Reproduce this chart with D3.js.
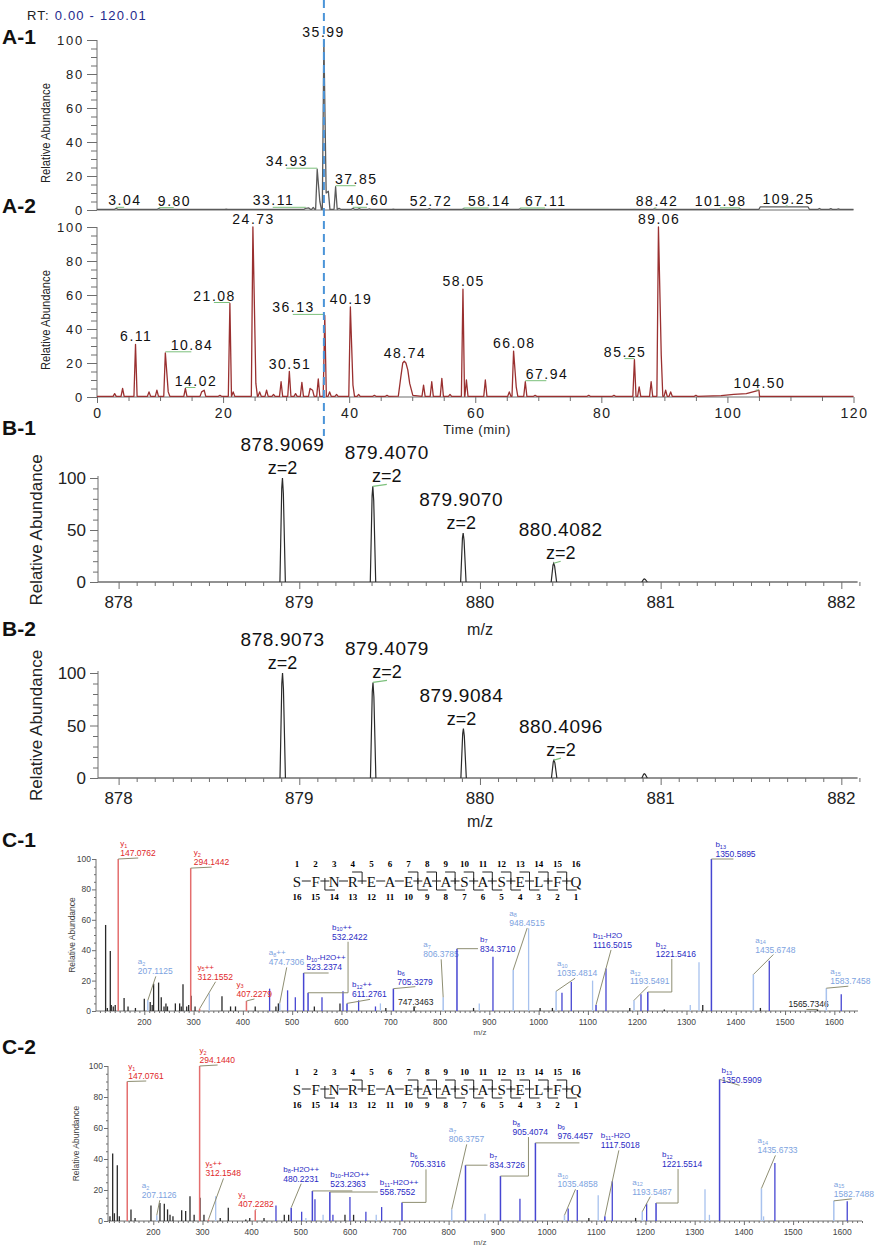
<!DOCTYPE html>
<html>
<head>
<meta charset="utf-8">
<script src="https://cdn.jsdelivr.net/npm/d3@7/dist/d3.min.js"></script>
<style>
  body { margin: 0; background: #fff; }
  svg { display: block; font-family: "Liberation Sans", Arial, sans-serif; }
</style>
</head>
<body>
<svg id="fig" width="879" height="1248"></svg>
<script>
// ---------- values ----------

// A-1 / A-2 chromatograms: [time (min), relative abundance]
var a1Peaks = [[3.04,1],[9.80,0.8],[20.5,0.5],[33.11,1],[33.6,1.2],[34.3,1.5],[34.93,24],[35.35,5],
  [35.99,100],[36.35,10],[36.7,11],[37.85,13.7],[38.4,1],[40.60,1],[41.6,0.8],[43.2,0.6],[47,0.5],
  [52.72,0.8],[58.14,0.6],[67.11,0.6],[88.42,0.6],[101.98,0.7],[114.6,0.9],[116.4,0.8],[117.6,0.6]];
var a1Humps = [[[105.0,0.4],[105.2,1.8],[109.25,1.8],[112.8,1.8],[113.0,0.4]]];
var a1Labels = [3.04,9.80,33.11,34.93,35.99,37.85,40.60,52.72,58.14,67.11,88.42,101.98,109.25];

var a2Peaks = [[2.8,2],[4.06,5],[6.11,31],[8.25,3],[9.5,4],[10.84,26],[11.3,3],[14.02,5],[16.6,3],
  [17.0,4],[19.5,1],[21.08,55],[21.6,3],[24.73,100],[25.2,8],[25.8,3],[26.9,4],[28.0,1.5],[29.2,9],
  [30.51,15],[31.5,2],[32.5,8.6],[33.8,5],[34.2,4],[35.1,10.6],[36.13,48],[36.9,3],[38.0,1.5],
  [40.19,53],[40.6,7],[41.5,1.5],[44.0,1],[46.0,1],[51.8,7],[53.1,9],[54.7,11],[56.0,1.5],
  [58.05,63.5],[58.6,10],[61.6,10],[65.4,3],[66.08,27],[66.5,6],[67.94,9],[69.5,1],[78.0,1],
  [82.0,1],[85.25,22],[86.0,6],[87.9,9],[89.06,100],[89.5,25],[90.2,4],[91.0,3],[95.0,1]];
var a2Humps = [[[47.8,0.5],[48.2,12],[48.5,20],[48.74,21],[49.0,20],[49.3,16],[49.6,8],[50.1,1]],
  [[99.0,0.8],[101.0,1.5],[103.0,2],[104.50,3.5],[105.0,4],[105.1,0.4]]];
var a2Labels = [6.11,10.84,14.02,21.08,24.73,30.51,36.13,40.19,48.74,58.05,66.08,67.94,85.25,89.06,104.50];

var timeTicks = [0,20,40,60,80,100,120];
var abundTicks = [0,20,40,60,80,100];

// B-1 / B-2 isotope envelopes: [m/z, relative abundance]
var b1Peaks = [[878.9069,100],[879.4070,92],[879.9070,47],[880.4082,18],[880.91,3]];
var b1Labels = [878.9069,879.4070,879.9070,880.4082];
var b2Peaks = [[878.9073,100],[879.4079,91],[879.9084,47],[880.4096,17],[880.91,4]];
var b2Labels = [878.9073,879.4079,879.9084,880.4096];
var chargeText = "z=2";
var mzTicks = [878,879,880,881,882];
var bAbundTicks = [0,50,100];

// C-1 / C-2 MS/MS spectra: unannotated / colour-only peaks [m/z, abundance, series]
var c1Peaks = [[121.5,56.6,"n"],[125,2,"n"],[131,39.4,"n"],[133,4,"n"],[137,3,"n"],[141,4,"n"],
  [159,8.6,"n"],[167,3,"n"],[182,2,"n"],[200,8,"n"],[212,6,"n"],[216,4,"n"],[218.9,18,"n"],
  [229,18.7,"n"],[234.4,9,"n"],[240,3,"n"],[243.9,5,"n"],[247,3,"n"],[263,5,"n"],[271.7,5,"n"],
  [275,3,"n"],[278.5,17.6,"n"],[286,3,"n"],[290,4,"n"],[295,10,"n"],[303,3,"n"],[331.9,11.5,"a"],
  [357.6,9.7,"n"],[375,3,"n"],[385,3,"n"],[425,3,"n"],[454.2,14.7,"b"],[467,3,"n"],[472,5,"n"],
  [490.7,13.6,"b"],[506.4,9,"b"],[545,3,"n"],[560.5,9,"b"],[597,5,"n"],[603.1,13,"b"],
  [634.8,7,"b"],[669,3,"b"],[679,5,"a"],[690,2,"n"],[868,2,"n"],[879.6,5,"a"],[907.4,35.7,"b"],
  [979.7,54.4,"a"],[1003,2,"n"],[1028,2,"n"],[1047.4,12,"b"],[1066.3,19,"b"],[1109.5,20,"a"],
  [1136.7,28,"b"],[1185,2,"n"],[1207.7,11,"b"],[1255,1,"n"],[1307.7,4,"a"],[1325.4,32,"a"],
  [1333,4,"n"],[1450,2,"n"],[1468,33,"b"],[1614,11,"b"]];
// annotated ions [m/z, abundance, ion]
var c1Ions = [[147.0762,100,"y1"],[294.1442,94,"y2"],[207.1125,7,"a2"],[312.1552,1.5,"y5++"],
  [407.2279,6.6,"y3"],[474.7306,5,"a8++"],[523.2374,25,"b10-H2O++"],[532.2422,12,"b10++"],
  [611.2761,5,"b12++"],[705.3279,14.7,"b6"],[747.3463,3,""],[806.3785,9,"a7"],[834.3710,41,"b7"],
  [948.4515,27,"a8"],[1035.4814,13,"a10"],[1116.5015,4,"b11-H2O"],[1193.5491,7,"a12"],
  [1221.5416,12.5,"b12"],[1350.5895,100,"b13"],[1435.6748,24,"a14"],[1565.7346,1,""],
  [1583.7458,15,"a15"]];

var c2Peaks = [[112,3,"n"],[117.5,43.5,"n"],[121,5,"n"],[126.9,36,"n"],[131,3,"n"],[154.7,7.5,"n"],
  [163,2,"n"],[195.3,10,"n"],[213.6,11.6,"n"],[222.4,11.2,"n"],[229,7.5,"n"],[234,4,"n"],
  [240,3,"n"],[257.7,7,"n"],[265.8,6.5,"n"],[274.6,16,"n"],[283,4,"n"],[295,15,"n"],[303,4,"n"],
  [326.8,16,"a"],[336,2,"n"],[352.4,8.6,"n"],[388,1,"n"],[396,2,"n"],[425,2,"n"],[449.3,10,"b"],
  [466.2,4,"n"],[475,4,"n"],[501.5,6,"b"],[510,2,"a"],[528.5,14,"b"],[545,4,"a"],[565,4,"b"],
  [589.5,4,"n"],[599.6,15.5,"b"],[607,4,"n"],[632,6,"b"],[653,4,"a"],[664,9,"b"],[874,4.7,"a"],
  [945,14.4,"b"],[1043,8,"b"],[1061.5,20,"b"],[1085,2,"n"],[1104,16.6,"a"],[1132.6,25.6,"b"],
  [1180,2,"n"],[1202.4,11.2,"b"],[1321,20.5,"a"],[1330,4,"a"],[1440,3,"a"],[1463,37.5,"b"],
  [1610,12.7,"b"]];
var c2Ions = [[147.0761,90,"y1"],[294.1440,100,"y2"],[207.1126,3.7,"a2"],[312.1548,1,"y5++"],
  [407.2282,7,"y3"],[480.2231,8.6,"b8-H2O++"],[523.2363,19.4,"b10-H2O++"],[558.7552,18.7,"b11-H2O++"],
  [705.3316,12,"b6"],[806.3757,7.5,"a7"],[834.3726,36,"b7"],[905.4074,29,"b8"],[976.4457,50.4,"b9"],
  [1035.4858,3.7,"a10"],[1117.5018,3,"b11-H2O"],[1193.5487,6,"a12"],[1221.5514,11.6,"b12"],
  [1350.5909,91.4,"b13"],[1435.6733,21,"a14"],[1582.7488,13,"a15"]];

var msTicks = [200,300,400,500,600,700,800,900,1000,1100,1200,1300,1400,1500,1600];
var sequence = ["S","F","N","R","E","A","E","A","A","S","A","S","E","L","F","Q"];
// fragment marks between residues: b = N-terminal bracket, y = C-terminal bracket
var bonds = ["-","y","-","b","-","-","by","by","by","by","by","by","by","by","by"];

// ---------- drawing ----------
var svg = d3.select("#fig");
var axisGrey = "#6e6e6e";

function ticks(parent, orient, scale, vals, size, tx, ty) {
  var ax = (orient === "left" ? d3.axisLeft : d3.axisBottom)(scale)
    .tickValues(vals).tickSize(size).tickSizeOuter(0).tickFormat("");
  var g = parent.append("g").attr("transform", "translate(" + tx + "," + ty + ")").call(ax);
  g.select(".domain").remove();
  g.selectAll(".tick line").attr("stroke", axisGrey).attr("stroke-width", 1);
  return g;
}

function panelTag(txt, y) {
  svg.append("text").attr("x", 2).attr("y", y).attr("font-size", 21)
    .attr("font-weight", "bold").attr("fill", "#111").text(txt);
}

// header
var rt = svg.append("text").attr("x", 27).attr("y", 20).attr("font-size", 13).attr("letter-spacing", 1.2);
rt.append("tspan").attr("fill", "#222").text("RT: ");
rt.append("tspan").attr("fill", "#1f2a8c").text("0.00 - 120.01");

// ----- A panels -----
var xt = d3.scaleLinear().domain([0, 120]).range([97, 853.5]);

function buildTrace(peaks, humps, base, w) {
  var spans = peaks.map(function(p) { return [p[0] - w, p[0] + w]; });
  humps.forEach(function(h) { spans.push([h[0][0], h[h.length - 1][0]]); });
  function inside(t, own) {
    return spans.some(function(s, i) { return i !== own && t > s[0] && t < s[1]; });
  }
  var pts = [[0, base]];
  peaks.forEach(function(p, i) {
    if (!inside(p[0] - w, i)) pts.push([p[0] - w, base]);
    pts.push([p[0], p[1]]);
    if (!inside(p[0] + w, i)) pts.push([p[0] + w, base]);
  });
  humps.forEach(function(h) { h.forEach(function(q) { pts.push(q); }); });
  pts.push([120, base]);
  return pts.sort(function(a, b) { return a[0] - b[0]; });
}

function heightAt(peaks, humps, t) {
  var all = peaks.concat([].concat.apply([], humps));
  var best = all.reduce(function(a, b) { return Math.abs(b[0] - t) < Math.abs(a[0] - t) ? b : a; });
  return best[1];
}

function chromPanel(peaks, humps, labels, dxMap, y, color, tag, tagY, showTime) {
  var g = svg.append("g");
  panelTag(tag, tagY);
  // axes
  g.append("line").attr("x1", xt(0)).attr("x2", xt(0)).attr("y1", y(100)).attr("y2", y(0))
    .attr("stroke", axisGrey);
  g.append("line").attr("x1", xt(0)).attr("x2", xt(120)).attr("y1", y(0)).attr("y2", y(0))
    .attr("stroke", axisGrey).attr("stroke-width", 1.2);
  ticks(g, "left", y, abundTicks, 10, xt(0), 0);
  ticks(g, "left", y, d3.range(0, 101, 5).filter(function(v) { return v % 20; }), 6, xt(0), 0);
  g.selectAll("text.yl").data(abundTicks).join("text").attr("class", "yl")
    .attr("x", 84).attr("y", function(d) { return y(d) + 5; })
    .attr("text-anchor", "end").attr("font-size", 13).attr("letter-spacing", 1.8)
    .attr("fill", "#222").text(function(d) { return d; });
  g.append("text")
    .attr("transform", "translate(50," + ((y(0) + y(100)) / 2 + 8) + ") rotate(-90)")
    .attr("text-anchor", "middle").attr("font-size", 13).attr("textLength", 100)
    .attr("lengthAdjust", "spacingAndGlyphs").attr("fill", "#222").text("Relative Abundance");
  if (showTime) {
    ticks(g, "bottom", xt, timeTicks, 6, 0, y(0));
    ticks(g, "bottom", xt, d3.range(0, 121, 5).filter(function(v) { return v % 20; }), 4, 0, y(0));
    g.selectAll("text.xl").data(timeTicks).join("text").attr("class", "xl")
      .attr("x", function(d) { return xt(d) + 1; }).attr("y", y(0) + 21)
      .attr("text-anchor", "middle").attr("font-size", 14).attr("letter-spacing", 1.5)
      .attr("fill", "#222").text(function(d) { return d; });
  }
  // trace
  var line = d3.line().x(function(d) { return xt(d[0]); }).y(function(d) { return y(d[1]); });
  g.append("path").datum(buildTrace(peaks, humps, 0.4, 0.25))
    .attr("d", line).attr("fill", "none").attr("stroke", color).attr("stroke-width", 1.3)
    .attr("stroke-linejoin", "round");
  // peak labels
  labels.forEach(function(t) {
    var px = xt(t), py = y(heightAt(peaks, humps, t));
    var lx = px + (dxMap[t.toFixed(2)] || 0);
    if (Math.abs(lx - px) > 1) {
      g.append("line").attr("x1", px).attr("x2", lx).attr("y1", py - 1).attr("y2", py - 1)
        .attr("stroke", "#7cc07c").attr("stroke-width", 1);
    }
    g.append("text").attr("x", lx + 0.7).attr("y", py - 3).attr("text-anchor", "middle")
      .attr("font-size", 14).attr("letter-spacing", 1.5).attr("fill", "#111").text(t.toFixed(2));
  });
}

var ya1 = d3.scaleLinear().domain([0, 100]).range([210, 40]);
var ya2 = d3.scaleLinear().domain([0, 100]).range([397, 227]);
chromPanel(a1Peaks, a1Humps, a1Labels,
  {"3.04": 8, "9.80": 15, "33.11": -33, "34.93": -31, "35.99": -1, "37.85": 20, "40.60": 14,
   "52.72": 1, "58.14": 25, "67.11": 25, "88.42": 2, "101.98": -20, "109.25": 2},
  ya1, "#5a5a5a", "A-1", 44, false);
chromPanel(a2Peaks, a2Humps, a2Labels,
  {"10.84": 26, "14.02": 10, "21.08": -16, "36.13": -32, "67.94": 21, "85.25": -10, "104.50": 3},
  ya2, "#9a3030", "A-2", 213, true);
svg.append("text").attr("x", 477).attr("y", 434).attr("text-anchor", "middle")
  .attr("font-size", 13).attr("letter-spacing", 0.6).attr("fill", "#222").text("Time (min)");

// dashed marker through the two chromatograms
svg.append("line").attr("x1", xt(35.99)).attr("x2", xt(35.99)).attr("y1", 0).attr("y2", 436)
  .attr("stroke", "#4b94d8").attr("stroke-width", 2).attr("stroke-dasharray", "8,5");

// ----- B panels -----
var xb = d3.scaleLinear().domain([877.886, 882.09]).range([98, 857.6]);

function isoPanel(peaks, labels, dxs, y, tag, tagY, mzY) {
  var g = svg.append("g");
  panelTag(tag, tagY);
  g.append("line").attr("x1", xb.range()[0]).attr("x2", xb.range()[0]).attr("y1", y(100) - 2)
    .attr("y2", y(0)).attr("stroke", axisGrey);
  g.append("line").attr("x1", xb.range()[0]).attr("x2", xb.range()[1]).attr("y1", y(0)).attr("y2", y(0))
    .attr("stroke", axisGrey).attr("stroke-width", 1.3);
  ticks(g, "left", y, bAbundTicks, 8, xb.range()[0], 0);
  ticks(g, "left", y, d3.range(10, 100, 10).filter(function(v) { return v % 50; }), 5, xb.range()[0], 0);
  ticks(g, "bottom", xb, mzTicks, 7, 0, y(0));
  ticks(g, "bottom", xb, d3.range(878, 882.11, 0.1).filter(function(v) {
    return Math.abs(v - Math.round(v)) > 0.01; }), 4, 0, y(0));
  g.selectAll("text.yl").data(bAbundTicks).join("text").attr("class", "yl")
    .attr("x", 86).attr("y", function(d) { return y(d) + 6; })
    .attr("text-anchor", "end").attr("font-size", 17).attr("fill", "#222")
    .text(function(d) { return d; });
  g.selectAll("text.xl").data(mzTicks).join("text").attr("class", "xl")
    .attr("x", function(d) { return xb(d); }).attr("y", y(0) + 26)
    .attr("text-anchor", "middle").attr("font-size", 17).attr("fill", "#222")
    .text(function(d) { return d; });
  g.append("text").attr("transform", "translate(42," + (y(50) + 0) + ") rotate(-90)")
    .attr("text-anchor", "middle").attr("font-size", 17).attr("fill", "#222")
    .text("Relative Abundance");
  g.append("text").attr("x", 480).attr("y", mzY).attr("text-anchor", "middle")
    .attr("font-size", 16).attr("fill", "#222").text("m/z");
  var line = d3.line().x(function(d) { return xb(d[0]); }).y(function(d) { return y(d[1]); });
  peaks.forEach(function(p) {
    g.append("path").datum([[p[0] - 0.014, 0], [p[0] - 0.004, p[1] * 0.9], [p[0], p[1]],
      [p[0] + 0.005, p[1] * 0.85], [p[0] + 0.016, 0]])
      .attr("d", line).attr("fill", "none").attr("stroke", "#2a2a2a").attr("stroke-width", 1.2);
  });
  labels.forEach(function(m, i) {
    var p = peaks.filter(function(q) { return q[0] === m; })[0];
    var px = xb(m), py = y(p[1]), lx = px + dxs[i];
    if (Math.abs(dxs[i]) > 3) {
      g.append("line").attr("x1", px).attr("x2", lx).attr("y1", py).attr("y2", py - 2)
        .attr("stroke", "#7cc07c").attr("stroke-width", 1.2);
    }
    g.append("text").attr("x", lx).attr("y", py - 4).attr("text-anchor", "middle")
      .attr("font-size", 18).attr("fill", "#111").text(chargeText);
    g.append("text").attr("x", lx).attr("y", py - 27).attr("text-anchor", "middle")
      .attr("font-size", 19).attr("letter-spacing", 0.6).attr("fill", "#111").text(m.toFixed(4));
  });
}

isoPanel(b1Peaks, b1Labels, [0, 14, -2, 7],
  d3.scaleLinear().domain([0, 100]).range([582, 478]), "B-1", 435, 635);
isoPanel(b2Peaks, b2Labels, [0, 14, -2, 7],
  d3.scaleLinear().domain([0, 100]).range([778, 673]), "B-2", 636, 827);

// ----- C panels -----
var seriesLine = {a: "#a8c2ee", b: "#4646d2", y: "#e46e6e", n: "#2a2a2a"};
var seriesText = {a: "#7ca2e0", b: "#2a2ac4", y: "#e0282a", n: "#222"};

function drawSeq(cy) {
  var g = svg.append("g").attr("font-family", "'Liberation Serif','Times New Roman',serif");
  var sx = d3.scaleLinear().domain([0, 15]).range([297, 576]);
  g.selectAll("text.res").data(sequence).join("text").attr("class", "res")
    .attr("x", function(d, i) { return sx(i); }).attr("y", cy + 5.5)
    .attr("text-anchor", "middle").attr("font-size", 15).attr("fill", "#111")
    .text(function(d) { return d; });
  g.selectAll("text.top").data(sequence).join("text").attr("class", "top")
    .attr("x", function(d, i) { return sx(i); }).attr("y", cy - 14.5)
    .attr("text-anchor", "middle").attr("font-size", 9).attr("font-weight", "bold")
    .text(function(d, i) { return i + 1; });
  g.selectAll("text.bot").data(sequence).join("text").attr("class", "bot")
    .attr("x", function(d, i) { return sx(i); }).attr("y", cy + 18.5)
    .attr("text-anchor", "middle").attr("font-size", 9).attr("font-weight", "bold")
    .text(function(d, i) { return sequence.length - i; });
  bonds.forEach(function(b, i) {
    var xm = (sx(i) + sx(i + 1)) / 2;
    var s = "M" + (xm - 4.5) + "," + cy + "H" + (xm + 4.5);
    if (b.indexOf("b") >= 0) s += "M" + xm + "," + (cy + 3) + "V" + (cy - 9) + "H" + (xm - 10);
    if (b.indexOf("y") >= 0) s += "M" + xm + "," + (cy - 3) + "V" + (cy + 9) + "H" + (xm + 10);
    g.append("path").attr("d", s).attr("fill", "none").attr("stroke", "#222").attr("stroke-width", 1);
  });
}

function msPanel(peaks, ions, place, x, y, axisX, tag, tagY, seqY, mzY) {
  var g = svg.append("g");
  panelTag(tag, tagY);
  var x0 = x.range()[0], x1 = x.range()[1];
  g.append("line").attr("x1", x0).attr("x2", x0).attr("y1", y(100)).attr("y2", y(0)).attr("stroke", axisGrey);
  g.append("line").attr("x1", x0).attr("x2", x1).attr("y1", y(0)).attr("y2", y(0)).attr("stroke", axisGrey);
  ticks(g, "left", y, abundTicks, 4, x0, 0);
  ticks(g, "left", y, d3.range(0, 101, 5).filter(function(v) { return v % 20; }), 2, x0, 0);
  ticks(g, "bottom", x, msTicks, 4, 0, y(0));
  ticks(g, "bottom", x, d3.range(110, 1641, 10).filter(function(v) { return v % 100; }), 2, 0, y(0));
  g.selectAll("text.yl").data(abundTicks).join("text").attr("class", "yl")
    .attr("x", x0 - 5).attr("y", function(d) { return y(d) + 3; })
    .attr("text-anchor", "end").attr("font-size", 8.5).attr("fill", "#444")
    .text(function(d) { return d; });
  g.selectAll("text.xl").data(msTicks).join("text").attr("class", "xl")
    .attr("x", function(d) { return x(d); }).attr("y", y(0) + 14)
    .attr("text-anchor", "middle").attr("font-size", 8.5).attr("fill", "#444")
    .text(function(d) { return d; });
  g.append("text").attr("transform", "translate(" + axisX + "," + y(50) + ") rotate(-90)")
    .attr("text-anchor", "middle").attr("font-size", 8.5).attr("fill", "#444").text("Relative Abundance");
  g.append("text").attr("x", 480).attr("y", mzY).attr("text-anchor", "middle")
    .attr("font-size", 8).attr("fill", "#555").text("m/z");

  g.selectAll("line.pk").data(peaks).join("line").attr("class", "pk")
    .attr("x1", function(d) { return x(d[0]); }).attr("x2", function(d) { return x(d[0]); })
    .attr("y1", y(0)).attr("y2", function(d) { return y(d[1]); })
    .attr("stroke", function(d) { return seriesLine[d[2]]; }).attr("stroke-width", 1.3);

  ions.forEach(function(ion, i) {
    var m = /^([aby])(\d+)(.*)$/.exec(ion[2]);
    var s = m ? m[1] : "n";
    var px = x(ion[0]), py = y(ion[1]);
    var pl = place[i], lx = px + pl[0], base = py + pl[1];
    g.append("line").attr("x1", px).attr("x2", px).attr("y1", y(0)).attr("y2", py)
      .attr("stroke", seriesLine[s]).attr("stroke-width", 1.5);
    var pts;
    if (pl[2] === "e") pts = [[px, py], [lx + 16, py], [lx + 16, base + 2]];
    else if (pl[2] === "h") pts = [[px, py], [lx - 2, py]];
    else if (pl[2] === "u") pts = [[px, py], [lx + 22, py]];
    else pts = [[px, py], [lx + 18, base + 2]];
    g.append("path").attr("d", d3.line()(pts)).attr("fill", "none")
      .attr("stroke", "#8e8e72").attr("stroke-width", 1);
    if (m) {
      var nt = g.append("text").attr("x", lx).attr("y", base - 10).attr("font-size", 8)
        .attr("fill", seriesText[s]);
      nt.append("tspan").text(m[1]);
      nt.append("tspan").attr("font-size", 5.5).attr("dy", 1.5).text(m[2]);
      nt.append("tspan").attr("dy", -1.5).text(m[3]);
    }
    g.append("text").attr("x", lx).attr("y", base).attr("font-size", 8.5)
      .attr("fill", seriesText[s]).text(ion[0].toFixed(4));
  });
  drawSeq(seqY);
}

var c1Place = [[2,-3,"d"],[3,-3,"d"],[-10,-26,"d"],[-2,-29,"d"],[-10,-4,"d"],[-11,-38,"d"],
  [3,-3,"u"],[24,-53,"e"],[5,-6,"d"],[4,-4,"d"],[-16,-1,"d"],[-20,-40,"d"],[23,3,"h"],[-4,-44,"d"],
  [1,-15,"d"],[-3,-57,"d"],[-4,-16,"d"],[8,-35,"e"],[4,-2,"d"],[2,-22,"d"],[-29,-2,"d"],[4,-4,"d"]];
var c2Place = [[1,-2.5,"d"],[0,-3,"d"],[-15,-17,"d"],[-3,-43,"d"],[-17,-3,"d"],[-8,-26,"d"],
  [18,-4,"u"],[50,3,"h"],[8,-35,"e"],[-3,-67,"d"],[24,3,"h"],[12,-41,"e"],[22,-4,"u"],[-7,-28,"d"],
  [-4,-68,"d"],[-10,-17,"d"],[6,-36,"e"],[2,4,"d"],[-4,-35,"d"],[0,-4,"d"]];

msPanel(c1Peaks, c1Ions, c1Place,
  d3.scaleLinear().domain([102, 1648]).range([96, 858]),
  d3.scaleLinear().domain([0, 100]).range([1011, 859]), 75, "C-1", 847, 881, 1035);
msPanel(c2Peaks, c2Ions, c2Place,
  d3.scaleLinear().domain([108, 1640]).range([108, 862]),
  d3.scaleLinear().domain([0, 100]).range([1221, 1066]), 79, "C-2", 1054, 1089, 1245);
</script>
</body>
</html>
